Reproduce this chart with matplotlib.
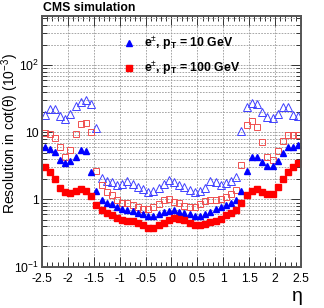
import numpy as np
import matplotlib
matplotlib.use("Agg")
import matplotlib.pyplot as plt
from matplotlib.ticker import FixedLocator, MultipleLocator, NullFormatter

plt.rcParams['font.family'] = ['Liberation Sans', 'DejaVu Sans']
plt.rcParams['axes.unicode_minus'] = False
plt.rcParams['mathtext.fontset'] = 'custom'
plt.rcParams['mathtext.rm'] = 'Liberation Sans'
plt.rcParams['mathtext.bf'] = 'Liberation Sans:bold'

# === data: bin centres in eta, resolution in cot(theta) (10^-3) ===
eta = np.round(np.arange(-2.45, 2.46, 0.1), 2)

# pT = 10 GeV, open (second configuration)
res10_open = [18.3, 22.0, 22.0, 17.5, 15.8, 18.8, 24.5, 28.6, 30.0, 26.8, 11.7, 2.1,
              1.9, 1.8, 1.65, 1.72, 1.88, 1.7, 1.56, 1.44, 1.3, 1.33, 1.5, 1.7, 1.92,
              1.82, 1.67, 1.53, 1.38, 1.3, 1.32, 1.5, 1.88, 1.85, 1.65, 1.75, 1.9, 2.15,
              10.5, 23.9, 27.4, 26.2, 20.1, 16.9, 16.6, 18.6, 23.9, 23.9, 18.4, 17.5]
# pT = 10 GeV, filled
res10 = [6.0, 5.7, 5.1, 3.9, 3.5, 3.7, 4.3, 5.4, 5.2, 2.6, 1.33, 0.97,
         0.88, 0.86, 0.77, 0.73, 0.70, 0.67, 0.63, 0.60, 0.57, 0.57, 0.60, 0.64, 0.68,
         0.69, 0.66, 0.63, 0.60, 0.57, 0.57, 0.60, 0.66, 0.72, 0.77, 0.83, 0.90, 0.97,
         1.36, 2.64, 4.3, 4.3, 3.6, 3.2, 3.2, 3.8, 4.9, 6.0, 6.0, 6.4]
# pT = 100 GeV, open
res100_open = [9.8, 9.5, 8.3, 6.0, 4.3, 5.4, 9.5, 13.3, 13.8, 10.1, 2.7, 1.62,
               1.29, 1.15, 0.97, 0.88, 0.88, 0.84, 0.77, 0.73, 0.73, 0.77, 0.86, 0.97, 1.02,
               0.91, 0.88, 0.81, 0.77, 0.77, 0.86, 0.95, 0.97, 0.97, 1.0, 1.08, 1.22, 1.4,
               3.3, 12.7, 14.6, 11.9, 7.2, 4.3, 3.9, 5.3, 7.5, 9.0, 9.2, 9.0]
# pT = 100 GeV, filled
res100 = [3.03, 2.6, 2.0, 1.48, 1.27, 1.25, 1.36, 1.43, 1.32, 1.12, 0.84, 0.685,
          0.63, 0.58, 0.53, 0.49, 0.47, 0.47, 0.45, 0.41, 0.38, 0.38, 0.41, 0.45, 0.49,
          0.53, 0.52, 0.49, 0.45, 0.41, 0.41, 0.43, 0.46, 0.48, 0.51, 0.58, 0.62, 0.70,
          0.88, 1.15, 1.33, 1.42, 1.31, 1.19, 1.22, 1.56, 2.0, 2.56, 3.1, 3.45]

ytick_vals = [0.1, 1, 10, 100]
ytick_labels = ["10$^{-1}$", "1", "10", "10$^{2}$"]
xtick_vals = [-2.5, -2, -1.5, -1, -0.5, 0, 0.5, 1, 1.5, 2, 2.5]
xtick_labels = ["-2.5", "-2", "-1.5", "-1", "-0.5", "0", "0.5", "1", "1.5", "2", "2.5"]

# === figure ===
fig = plt.figure(figsize=(3.24, 3.08), dpi=100)
ax = fig.add_axes([0.1296, 0.1347, 0.7994, 0.8143])

blue = "#0000ff"
red = "#ff0000"
ax.plot(eta, res10_open, ls="none", marker="^", ms=5.5, mfc="none", mec="#4040ff", mew=0.7)
ax.plot(eta, res100_open, ls="none", marker="s", ms=5, mfc="none", mec="#f05050", mew=0.7)
ax.plot(eta, res10, ls="none", marker="^", ms=5, color=blue, mec=blue,
        label="e$^{\\pm}$, p$_{\\mathbf{T}}$ = 10 GeV")
ax.plot(eta, res100, ls="none", marker="s", ms=5, color=red, mec=red,
        label="e$^{\\pm}$, p$_{\\mathbf{T}}$ = 100 GeV")

ax.set_yscale("log")
ax.set_xlim(-2.5, 2.5)
ax.set_ylim(0.1, 550)

ax.xaxis.set_major_locator(FixedLocator(xtick_vals))
ax.set_xticklabels(xtick_labels)
ax.xaxis.set_minor_locator(MultipleLocator(0.1))
ax.yaxis.set_major_locator(FixedLocator(ytick_vals))
ax.set_yticklabels(ytick_labels)
ax.yaxis.set_minor_locator(FixedLocator(
    [m * 10.0 ** e for e in range(-1, 3) for m in range(2, 10)]))
ax.yaxis.set_minor_formatter(NullFormatter())

ax.tick_params(which="both", direction="in", top=True, right=True, labelsize=8.8,
               color="#333333", width=0.7)
ax.tick_params(which="major", length=7)
ax.tick_params(which="minor", length=3.5)
ax.tick_params(axis="x", pad=4.5)
ax.tick_params(axis="y", pad=2)

ax.grid(True, which="major", axis="x", ls=(0, (2, 1.5)), color="#999999", lw=0.6)
ax.grid(True, which="both", axis="y", ls=(0, (2, 1.5)), color="#999999", lw=0.6)

for s in ax.spines.values():
    s.set_color("#555555")
    s.set_linewidth(1.4)

leg = ax.legend(loc="upper left", bbox_to_anchor=(0.295, 0.945), frameon=False,
                prop={"weight": "bold", "size": 8.8}, handletextpad=0.7,
                labelspacing=0.65, handlelength=1.0, borderaxespad=0)

fig.text(0.133, 0.975, "CMS simulation", fontsize=8.8, fontweight="bold",
         ha="left", va="center")
fig.text(0.031, 0.565, "Resolution in cot(\u03b8) (10$^{-3}$)", fontsize=10,
         rotation=90, ha="center", va="center")
fig.text(0.917, 0.038, "\u03b7", fontsize=14, ha="center", va="center")

fig.savefig("out.png", dpi=100)
